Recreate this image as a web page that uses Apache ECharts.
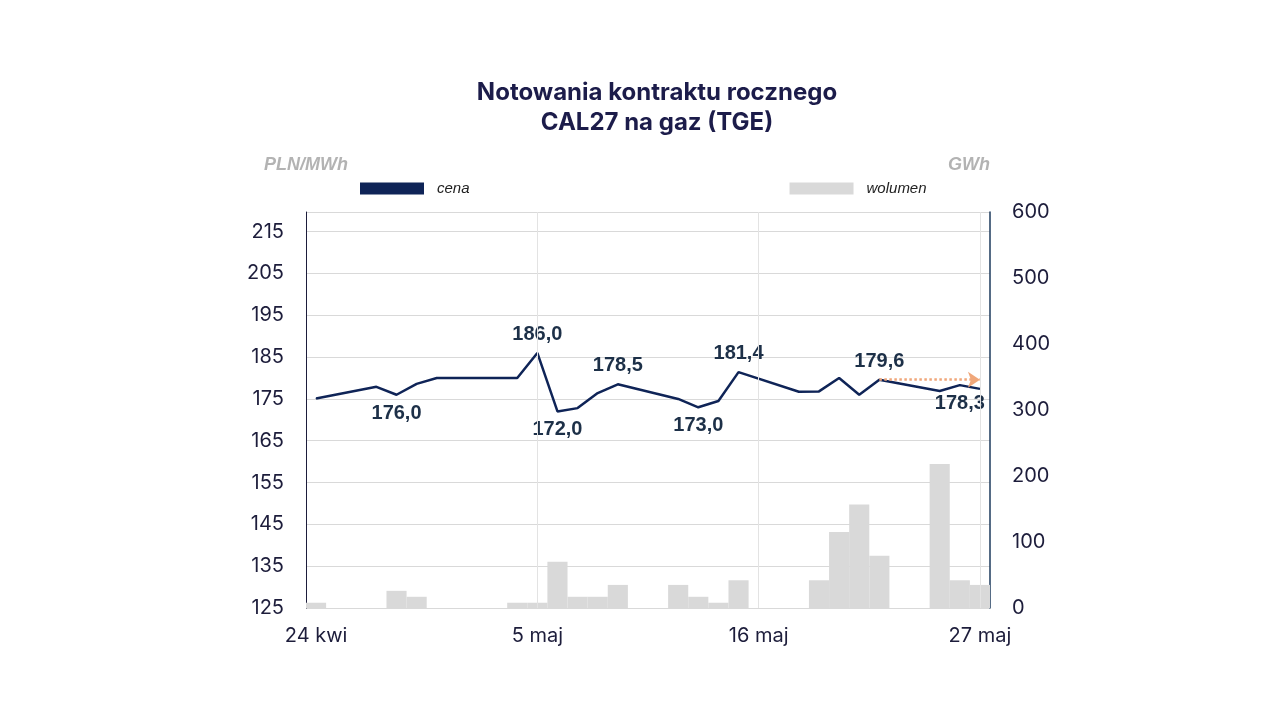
<!DOCTYPE html>
<html><head><meta charset="utf-8">
<script src="https://cdn.jsdelivr.net/npm/echarts@6/dist/echarts.min.js"></script>
<style>html,body{margin:0;background:#fff}#c{width:1280px;height:720px}</style></head>
<body><div id="c"></div>
<script>
const dayLabels = ['24 kwi','25 kwi','26 kwi','27 kwi','28 kwi','29 kwi','30 kwi','1 maj','2 maj','3 maj','4 maj','5 maj','6 maj','7 maj','8 maj','9 maj','10 maj','11 maj','12 maj','13 maj','14 maj','15 maj','16 maj','17 maj','18 maj','19 maj','20 maj','21 maj','22 maj','23 maj','24 maj','25 maj','26 maj','27 maj'];
const price = [175.1,null,null,177.9,176.0,178.6,180.0,null,null,null,180.0,186.0,172.0,172.8,176.4,178.5,null,null,175.0,173.0,174.5,181.4,null,null,176.7,176.8,180.0,176.0,179.6,null,null,176.9,178.3,177.4];
const volume = [8,0,0,0,26,17,0,0,0,0,8,8,70,17,17,35,0,0,35,17,8,42,0,0,0,42,115,157,79,0,0,218,42,35];
const labelled = {4:'bottom',11:'top',12:'bottom',15:'top',19:'bottom',21:'top',28:'top',32:'bottom'};
const navy = '#0f2457', txt = '#1d1d3b';
const priceData = price.map((v,i)=> labelled[i] && v!=null ? {value:v,label:{show:true,position:labelled[i],formatter:p=>Number(p.value).toFixed(1).replace('.',','),fontSize:20,fontWeight:'bold',color:'#1d3048',distance:8}} : v);
const chart = echarts.init(document.getElementById('c'));
chart.setOption({
  animation:false,
  title:{text:'Notowania kontraktu rocznego\nCAL27 na gaz (TGE)',left:652,top:73,textAlign:'center',textStyle:{fontSize:24,fontWeight:'bold',color:'#1c1c4a',lineHeight:30,fontFamily:'Inter'}},
  legend:{top:176,itemGap:320,left:355,itemWidth:64,itemHeight:12,icon:'rect',textStyle:{fontStyle:'italic',fontSize:15,color:'#222',fontFamily:'Liberation Sans',padding:[0,0,0,8]},
    data:[{name:'cena',itemStyle:{color:navy}},{name:'wolumen',itemStyle:{color:'#d9d9d9'}}]},
  grid:{left:306,right:290,top:212,bottom:112},
  xAxis:{type:'category',data:dayLabels,boundaryGap:true,
    axisLine:{show:false},axisTick:{show:false},
    axisLabel:{interval:10,fontSize:20,color:txt,margin:18,fontFamily:'Inter'},splitLine:{show:false}},
  yAxis:[
    {type:'value',min:125,max:219.7,interval:10,name:'PLN/MWh',nameLocation:'end',nameGap:38,nameTextStyle:{fontStyle:'italic',fontWeight:'bold',color:'#b3b3b3',fontSize:18,align:'center'},
      axisLine:{show:true,lineStyle:{color:'#1d1d3b',width:1}},axisTick:{show:false},
      axisLabel:{fontSize:20,color:txt,margin:22,fontFamily:'Inter',showMaxLabel:false},splitLine:{lineStyle:{color:'#d9d9d9'}}},
    {type:'value',min:0,max:600,interval:100,name:'GWh',nameLocation:'end',nameGap:38,nameTextStyle:{fontStyle:'italic',fontWeight:'bold',color:'#b3b3b3',fontSize:18,align:'right'},
      axisLine:{show:true,lineStyle:{color:'#1d3a5c',width:1.5}},axisTick:{show:false},
      axisLabel:{fontSize:20,color:txt,margin:22,fontFamily:'Inter'},splitLine:{show:false}}
  ],
  series:[
    {name:'wolumen',type:'bar',yAxisIndex:1,data:volume,barCategoryGap:'0%',itemStyle:{color:'#d9d9d9'},z:1,
      markLine:{silent:true,symbol:'none',label:{show:false},lineStyle:{color:'#e3e3e3',type:'solid',width:1},
        data:[{xAxis:'5 maj'},{xAxis:'16 maj'},{xAxis:'27 maj'}]}},
    {name:'cena',type:'line',yAxisIndex:0,data:priceData,connectNulls:true,symbol:'circle',symbolSize:1,showSymbol:true,lineStyle:{color:navy,width:2.5},itemStyle:{color:navy},z:3,
      markLine:{silent:true,symbol:['none','arrow'],symbolSize:12,label:{show:false},lineStyle:{color:'#f0a77a',type:'dotted',width:2.5},
        data:[[{coord:['22 maj',179.6]},{coord:['27 maj',179.6]}]]}}
  ]
});
</script></body></html>
